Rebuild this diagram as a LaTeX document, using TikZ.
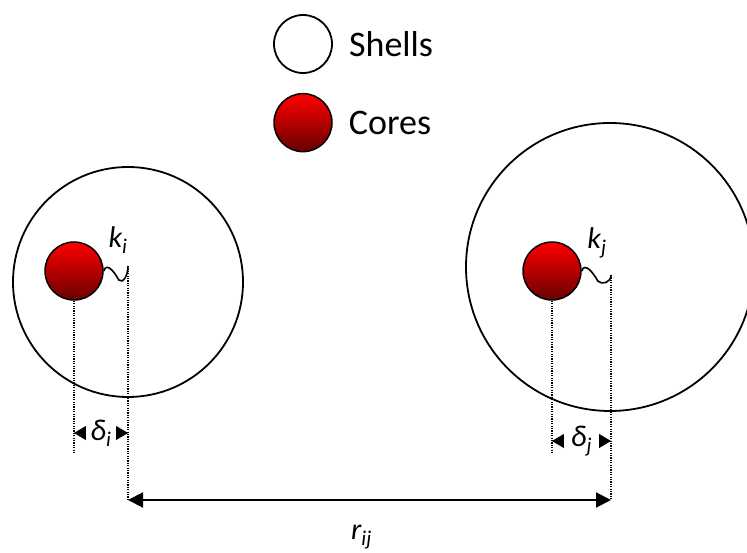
\documentclass[tikz,border=0pt]{standalone}
\usepackage{fontspec}
\setmainfont{Carlito}
\usetikzlibrary{arrows.meta,positioning}
\definecolor{coretop}{RGB}{255,0,0}
\definecolor{corebot}{RGB}{105,0,0}
\tikzset{
  shell/.style={circle,draw,line width=1.8pt,fill=white,inner sep=0pt},
  core/.style={circle,draw,line width=1.5pt,inner sep=0pt,minimum size=58pt,
    top color=coretop,bottom color=corebot},
  legtext/.style={anchor=west,inner sep=0pt,font=\fontsize{36}{38}\selectfont},
  lab/.style={inner sep=0pt,font=\fontsize{30}{32}\selectfont\itshape},
  guide/.style={dash pattern=on 1.2pt off 1.2pt,line width=1.2pt},
  spring/.style={line width=1.6pt},
  dim/.style={{Triangle[length=12pt,width=14pt]}-{Triangle[length=12pt,width=14pt]},line width=1pt},
  sep/.style={{Triangle[length=15pt,width=15pt]}-{Triangle[length=15pt,width=15pt]},line width=2pt},
}
\newcommand{\sublab}[2]{#1\textsubscript{\itshape #2}}

\begin{document}
\begin{tikzpicture}[x=1pt,y=1pt,node distance=19pt]
  \clip (0,0) rectangle (747,552);
  % legend
  \node[shell,minimum size=58pt] (legS) at (303,508) {};
  \node[core,below=of legS] (legC) {};
  \node[legtext,right=16pt of legS] (legSt) {Shells};
  \node[legtext,right=16pt of legC] (legCt) {Cores};
  % ion i
  \node[shell,minimum size=230pt] (Si) at (128,270) {};
  \node[core] (Ci) at (74,281) {};
  \coordinate (Ki) at (128,286);
  \coordinate (Ci0) at (74,99);
  \coordinate (Ki0) at (128,52);
  % ion j
  \node[shell,minimum size=288pt] (Sj) at (610,285) {};
  \node[core] (Cj) at (552,281) {};
  \coordinate (Kj) at (611,277);
  \coordinate (Cj0) at (552,99);
  \coordinate (Kj0) at (611,52);
  \coordinate (dimi) at (0,119);
  \coordinate (dimj) at (0,111);

  \draw[spring] (Ci.east) .. controls +(3,10) and +(-3,6) .. ++(15,-9)
     .. controls +(4,-4) and +(0,-10) .. (Ki);
  \draw[spring] (Cj.east) .. controls +(3,10) and +(-3,6) .. ++(16,-10)
     .. controls +(4,-4) and +(0,-8) .. (Kj);
  \node[lab] (ki) at (118,312) {\sublab{k}{i}};
  \node[lab] (kj) at (597,309) {\sublab{k}{j}};

  \draw[guide] (Ci.south) -- (Ci0);
  \draw[guide] (Ki) -- (Ki0);
  \draw[guide] (Cj.south) -- (Cj0);
  \draw[guide] (Kj) -- (Kj0);

  \draw[dim] (Ci0 |- dimi) -- node[lab,fill=white,minimum width=30pt]
     (di) {\sublab{δ}{i}} (Ki |- dimi);
  \draw[dim] (Cj0 |- dimj) -- node[lab,fill=white,minimum width=35pt]
     (dj) {\sublab{δ}{j}} (Kj |- dimj);
  \draw[sep] (Ki0) -- node[lab,below=24pt,xshift=-8pt]
     (rij) {\sublab{r}{ij}} (Kj0);
\end{tikzpicture}
\end{document}
